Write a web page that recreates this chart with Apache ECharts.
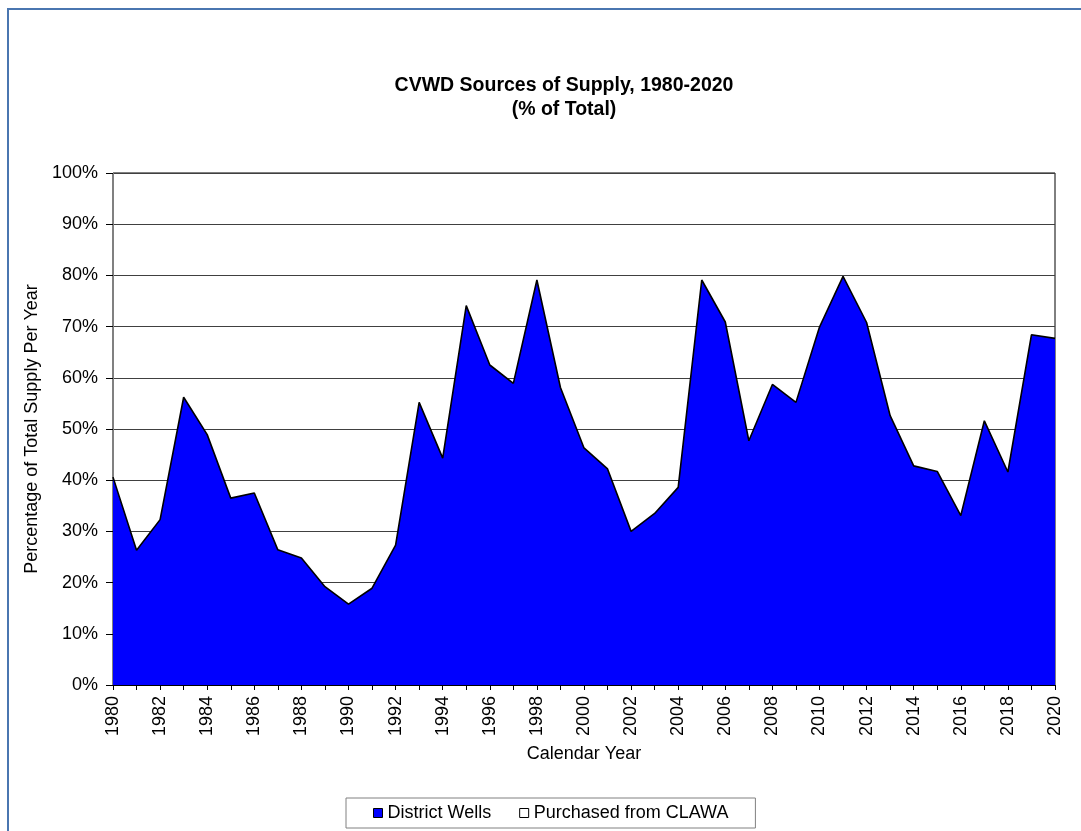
<!DOCTYPE html>
<html lang="en" style="height: 100%">
<head>
  <meta charset="utf-8">
</head>
<body style="height: 100%; margin: 0; background: #fff">
  <div id="container" style="width: 1081px; height: 831px"></div>

  <script type="text/javascript" src="https://fastly.jsdelivr.net/npm/echarts@6/dist/echarts.min.js"></script>

  <script type="text/javascript">
    var dom = document.getElementById('container');
    var myChart = echarts.init(dom, null, { renderer: 'canvas' });
    var option;

    // calendar years on the x axis
    const years = [
      '1980', '1981', '1982', '1983', '1984', '1985', '1986', '1987', '1988', '1989',
      '1990', '1991', '1992', '1993', '1994', '1995', '1996', '1997', '1998', '1999',
      '2000', '2001', '2002', '2003', '2004', '2005', '2006', '2007', '2008', '2009',
      '2010', '2011', '2012', '2013', '2014', '2015', '2016', '2017', '2018', '2019',
      '2020'
    ];

    // % of total supply from district wells
    const districtWells = [
      40.6, 26.3, 32.3, 56.2, 48.9, 36.5, 37.5, 26.4, 24.8, 19.2,
      15.8, 18.9, 27.3, 55.2, 44.3, 74.1, 62.5, 58.9, 79.1, 58.1,
      46.3, 42.2, 30.0, 33.5, 38.6, 79.1, 70.9, 47.7, 58.7, 55.2,
      69.9, 79.8, 70.8, 52.6, 42.8, 41.7, 33.1, 51.6, 41.6, 68.4,
      67.7
    ];

    // remainder purchased from CLAWA (white area, stacked on top)
    const purchasedClawa = [
      59.4, 73.7, 67.7, 43.8, 51.1, 63.5, 62.5, 73.6, 75.2, 80.8,
      84.2, 81.1, 72.7, 44.8, 55.7, 25.9, 37.5, 41.1, 20.9, 41.9,
      53.7, 57.8, 70.0, 66.5, 61.4, 20.9, 29.1, 52.3, 41.3, 44.8,
      30.1, 20.2, 29.2, 47.4, 57.2, 58.3, 66.9, 48.4, 58.4, 31.6,
      32.3
    ];

    const FONT = 'Arial, "Liberation Sans", sans-serif';

    option = {
      backgroundColor: '#fff',
      animation: false,
      textStyle: { fontFamily: FONT },
      title: {
        text: 'CVWD Sources of Supply, 1980-2020\n(% of Total)',
        left: 559,
        top: 69,
        textAlign: 'center',
        textStyle: {
          fontFamily: FONT,
          fontSize: 19.5,
          fontWeight: 'bold',
          color: '#000',
          lineHeight: 24
        }
      },
      graphic: [
        {
          type: 'rect',
          shape: { x: 8, y: 9, width: 1100, height: 900 },
          style: { fill: 'none', stroke: '#4a76b0', lineWidth: 2 },
          silent: true
        }
      ],
      legend: {
        left: 346,
        top: 798,
        orient: 'horizontal',
        padding: [6, 27],
        borderColor: '#808080',
        borderWidth: 1,
        itemWidth: 9,
        itemHeight: 9,
        itemGap: 28,
        icon: 'rect',
        textStyle: { fontFamily: FONT, fontSize: 18, color: '#000' },
        data: [
          { name: 'District Wells', itemStyle: { color: '#0000ff', borderColor: '#000', borderWidth: 1 } },
          { name: 'Purchased from CLAWA', itemStyle: { color: '#fff', borderColor: '#000', borderWidth: 1 } }
        ]
      },
      grid: {
        left: 113,
        right: 26,
        top: 173,
        bottom: 146,
        show: true,
        borderColor: '#000',
        borderWidth: 1
      },
      xAxis: {
        type: 'category',
        data: years,
        boundaryGap: false,
        name: 'Calendar Year',
        nameLocation: 'middle',
        nameGap: 60,
        nameTextStyle: { fontFamily: FONT, fontSize: 18, color: '#000' },
        axisLine: { lineStyle: { color: '#000', width: 1 } },
        axisTick: { interval: 0, length: 5, lineStyle: { color: '#000' } },
        axisLabel: {
          interval: 1,
          rotate: 90,
          margin: 11,
          fontFamily: FONT,
          fontSize: 18,
          color: '#000'
        },
        splitLine: { show: false }
      },
      yAxis: {
        type: 'value',
        min: 0,
        max: 100,
        interval: 10,
        name: 'Percentage of Total Supply Per Year',
        nameLocation: 'middle',
        nameGap: 65,
        nameTextStyle: { fontFamily: FONT, fontSize: 18, color: '#000' },
        axisLine: { show: true, lineStyle: { color: '#808080', width: 1 } },
        axisTick: { show: true, length: 7, lineStyle: { color: '#000' } },
        axisLabel: {
          formatter: '{value}%',
          margin: 15,
          fontFamily: FONT,
          fontSize: 18,
          color: '#000'
        },
        splitLine: { lineStyle: { color: '#404040', width: 1 } }
      },
      series: [
        {
          name: 'District Wells',
          type: 'line',
          stack: 'total',
          data: districtWells,
          symbol: 'none',
          lineStyle: { color: '#000', width: 1.6 },
          itemStyle: { color: '#0000ff' },
          areaStyle: { color: '#0000ff', opacity: 1 },
          z: 3
        },
        {
          name: 'Purchased from CLAWA',
          type: 'line',
          stack: 'total',
          data: purchasedClawa,
          symbol: 'none',
          lineStyle: { width: 0, opacity: 0 },
          itemStyle: { color: '#fff' },
          areaStyle: { color: '#fff', opacity: 0 },
          z: 2
        }
      ]
    };

    if (option && typeof option === 'object') {
      myChart.setOption(option);
    }

    window.addEventListener('resize', myChart.resize);
  </script>
</body>
</html>
